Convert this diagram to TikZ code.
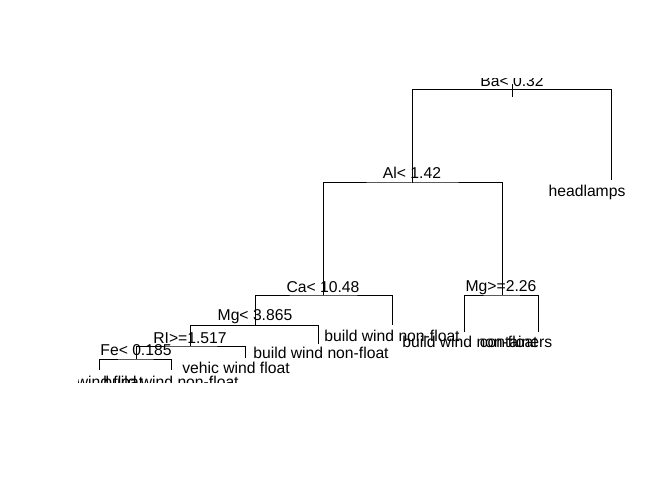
\documentclass[tikz,border=0pt]{standalone}
\usepackage{fontspec}
\setmainfont{Liberation Sans}
\tikzset{
    splitlbl/.style={anchor=base, inner sep=0pt, text=black, font=\fontsize{15.7bp}{18bp}\selectfont},
    leaflbl/.style={splitlbl},
    branch/.style={draw=black, line width=1bp},
}

\begin{document}
\begin{tikzpicture}[x=1bp, y=-1bp]
    \useasboundingbox[fill=white] (0,0) rectangle (672,480);
    \begin{scope}
    \clip (78,79) rectangle (632,382);
    % split points and leaf ends
    \coordinate (batop) at (512,84);
    \coordinate (babot) at (512,97);
    \coordinate (ba) at (512,89.5);
    \coordinate (al) at (412,183);
    \coordinate (hl) at (611,180);
    \coordinate (ca) at (323,295);
    \coordinate (mgb) at (502,295);
    \coordinate (mgs) at (255,325.5);
    \coordinate (bw1) at (392,325);
    \coordinate (ri) at (190,346);
    \coordinate (bw2) at (318,344);
    \coordinate (fe) at (136,359);
    \coordinate (vw) at (245,358);
    \coordinate (wf) at (99,370);
    \coordinate (bw3) at (171,370);
    \coordinate (bw4) at (464,332);
    \coordinate (ct) at (538,332);
    % branches
    \draw[branch] (batop) -- (babot);
    \draw[branch] (al) |- (ba) -| (hl);
    \draw[branch] (ca) |- (al) -| (mgb);
    \draw[branch] (mgs) |- (ca) -| (bw1);
    \draw[branch] (ri) |- (mgs) -| (bw2);
    \draw[branch] (fe) |- (ri) -| (vw);
    \draw[branch] (wf) |- (fe) -| (bw3);
    \draw[branch] (bw4) |- (mgb) -| (ct);
    % labels
    \node[splitlbl] (ba lbl) at (512,87) {Ba< 0.32};
    \node[splitlbl] (al lbl) at (412,179) {Al< 1.42};
    \node[leaflbl] (hl lbl) at (587,197) {headlamps};
    \node[splitlbl] (ca lbl) at (323,292) {Ca< 10.48};
    \node[splitlbl] (mgb lbl) at (501,291) {Mg>=2.26};
    \node[splitlbl] (mgs lbl) at (255,320) {Mg< 3.865};
    \node[leaflbl] (bw1 lbl) at (392,341) {build wind non-float};
    \node[splitlbl] (ri lbl) at (190,343) {RI>=1.517};
    \node[leaflbl] (bw2 lbl) at (321,358) {build wind non-float};
    \node[splitlbl] (fe lbl) at (136,355) {Fe< 0.185};
    \node[leaflbl] (vw lbl) at (236,373) {vehic wind float};
    \node[leaflbl] (bw4 lbl) at (470,347) {build wind non-float};
    \node[leaflbl] (ct lbl) at (516,347) {containers};
    \node[leaflbl] (wf lbl) at (110,387) {wind float};
    \node[leaflbl] (bw3 lbl) at (171,387) {build wind non-float};
    \end{scope}
\end{tikzpicture}
\end{document}
